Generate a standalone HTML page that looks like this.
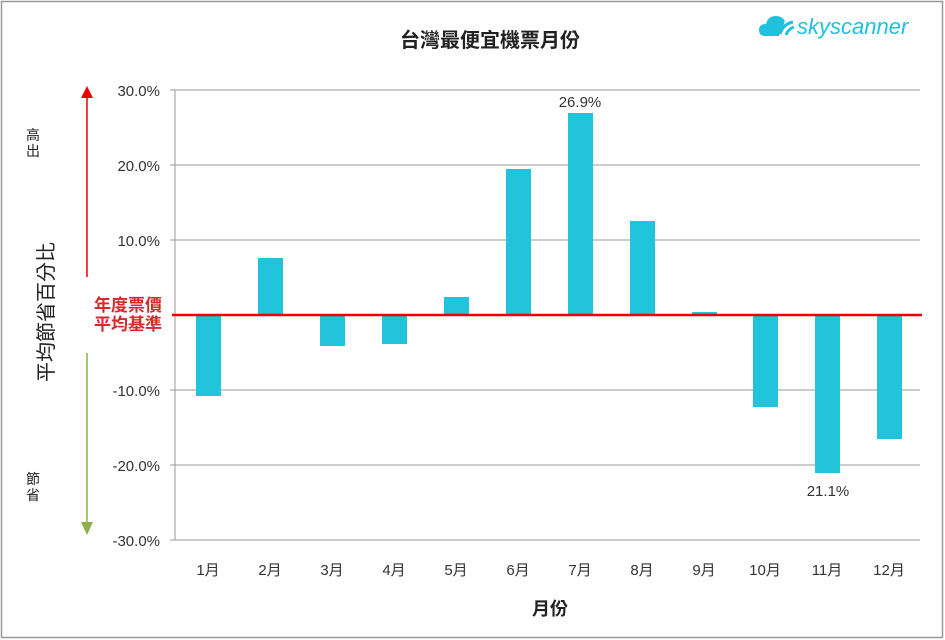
<!DOCTYPE html>
<html><head><meta charset="utf-8"><style>
html,body{margin:0;padding:0;background:#fff}
svg{display:block}
text{font-family:"Liberation Sans","Noto Sans CJK TC",sans-serif}
</style></head><body>
<svg width="945" height="640" viewBox="0 0 945 640" xmlns="http://www.w3.org/2000/svg">
<rect x="1.5" y="1.5" width="941" height="636" fill="#fff" stroke="#999" stroke-width="1.5"/>
<text x="490" y="47" font-size="20" font-weight="bold" text-anchor="middle" fill="#222">台灣最便宜機票月份</text>
<!-- logo -->
<g fill="#1fc1dd">
<path d="M765 36 q-6 0 -6 -6 q0 -6 7 -6 q2 -8 10 -8 q6 0 9 5 l-6 15 z"/>
<path d="M780 34 q3 -10 13 -12" stroke="#1fc1dd" stroke-width="3" fill="none"/>
<path d="M786 35 q2 -6 8 -8" stroke="#1fc1dd" stroke-width="3" fill="none"/>
</g>
<text x="797" y="34" font-size="22" fill="#1fc1dd" font-style="italic">skyscanner</text>
<!-- grid -->
<g stroke="#999" stroke-width="1">
<line x1="175" y1="90" x2="920" y2="90"/>
<line x1="175" y1="165" x2="920" y2="165"/>
<line x1="175" y1="240" x2="920" y2="240"/>
<line x1="175" y1="390" x2="920" y2="390"/>
<line x1="175" y1="465" x2="920" y2="465"/>
<line x1="175" y1="540" x2="920" y2="540"/>
<line x1="175" y1="90" x2="175" y2="540"/>
<line x1="170" y1="90" x2="175" y2="90"/><line x1="170" y1="165" x2="175" y2="165"/>
<line x1="170" y1="240" x2="175" y2="240"/><line x1="170" y1="390" x2="175" y2="390"/>
<line x1="170" y1="465" x2="175" y2="465"/><line x1="170" y1="540" x2="175" y2="540"/>
</g>
<g font-size="15" fill="#333" text-anchor="end">
<text x="160" y="96">30.0%</text><text x="160" y="171">20.0%</text><text x="160" y="246">10.0%</text>
<text x="160" y="396">-10.0%</text><text x="160" y="471">-20.0%</text><text x="160" y="546">-30.0%</text>
</g>
<!-- bars -->
<g fill="#22c4dc">
<rect x="196" y="315" width="25" height="81"/>
<rect x="258" y="258" width="25" height="57"/>
<rect x="320" y="315" width="25" height="31"/>
<rect x="382" y="315" width="25" height="29"/>
<rect x="444" y="297" width="25" height="18"/>
<rect x="506" y="169" width="25" height="146"/>
<rect x="568" y="113" width="25" height="202"/>
<rect x="630" y="221" width="25" height="94"/>
<rect x="692" y="312" width="25" height="3"/>
<rect x="753" y="315" width="25" height="92"/>
<rect x="815" y="315" width="25" height="158"/>
<rect x="877" y="315" width="25" height="124"/>
</g>
<line x1="172" y1="315" x2="922" y2="315" stroke="#e00" stroke-width="2.5"/>
<text x="580" y="107" font-size="15" fill="#333" text-anchor="middle">26.9%</text>
<text x="828" y="496" font-size="15" fill="#333" text-anchor="middle">21.1%</text>
<g font-size="15" fill="#333" text-anchor="middle">
<text x="208" y="575">1月</text><text x="270" y="575">2月</text><text x="332" y="575">3月</text>
<text x="394" y="575">4月</text><text x="456" y="575">5月</text><text x="518" y="575">6月</text>
<text x="580" y="575">7月</text><text x="642" y="575">8月</text><text x="704" y="575">9月</text>
<text x="765" y="575">10月</text><text x="827" y="575">11月</text><text x="889" y="575">12月</text>
</g>
<text x="550" y="615" font-size="18" font-weight="bold" fill="#222" text-anchor="middle">月份</text>
<!-- arrows -->
<line x1="87" y1="95" x2="87" y2="277" stroke="#e00" stroke-width="1.5"/>
<polygon points="81,98 93,98 87,86" fill="#e00"/>
<line x1="87" y1="353" x2="87" y2="526" stroke="#8cb04a" stroke-width="1.5"/>
<polygon points="81,522 93,522 87,535" fill="#8cb04a"/>
<text x="128" y="311" font-size="17" font-weight="bold" fill="#d42a2a" text-anchor="middle">年度票價</text>
<text x="128" y="330" font-size="17" font-weight="bold" fill="#d42a2a" text-anchor="middle">平均基準</text>
<text transform="translate(53,312) rotate(-90)" font-size="20" fill="#222" text-anchor="middle">平均節省百分比</text>
<text x="33" y="140" font-size="14" fill="#222" text-anchor="middle">高</text>
<text x="33" y="156" font-size="14" fill="#222" text-anchor="middle">出</text>
<text x="33" y="484" font-size="14" fill="#222" text-anchor="middle">節</text>
<text x="33" y="500" font-size="14" fill="#222" text-anchor="middle">省</text>
</svg>
</body></html>
